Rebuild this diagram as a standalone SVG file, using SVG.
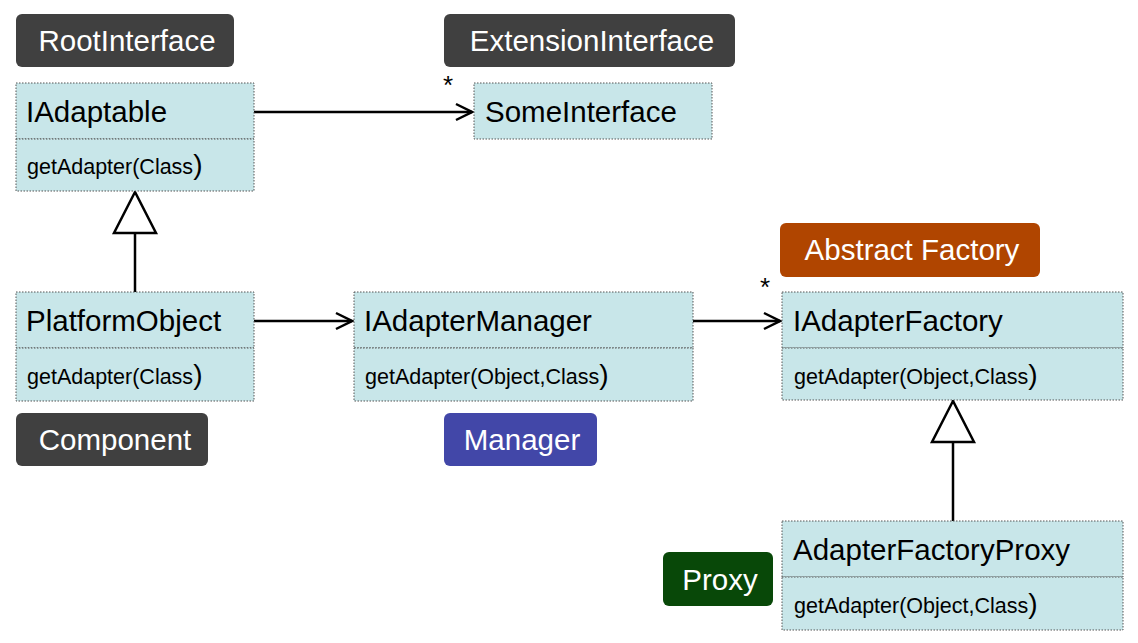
<svg xmlns="http://www.w3.org/2000/svg" width="1138" height="643" viewBox="0 0 1138 643">
<defs>
<style>
.box{fill:#c8e6e9;stroke:#555;stroke-width:1;stroke-dasharray:1.5 1.5}
.lbl{font-family:"Liberation Sans",Arial,sans-serif;font-size:29.5px;fill:#fff;text-anchor:middle}
.name{font-family:"Liberation Sans",Arial,sans-serif;font-size:29.5px;fill:#000}
.op{font-family:"Liberation Sans",Arial,sans-serif;font-size:21.5px;fill:#000}
.par{font-size:28px}
.star{font-family:"Liberation Sans",Arial,sans-serif;font-size:26px;fill:#000}
.ln{stroke:#000;stroke-width:2.5;fill:none}
.tri{fill:#fff;stroke:#000;stroke-width:2.5}
</style>
<marker id="open" viewBox="0 0 20 20" refX="18" refY="10" markerWidth="20" markerHeight="20" markerUnits="userSpaceOnUse" orient="auto">
<path d="M2,2 L18,10 L2,18" fill="none" stroke="#000" stroke-width="2.5"/>
</marker>
</defs>
<rect width="1138" height="643" fill="#fff"/>

<g id="connectors">
<line class="ln" x1="254" y1="112" x2="472" y2="112" marker-end="url(#open)"/>
<line class="ln" x1="254" y1="321" x2="352" y2="321" marker-end="url(#open)"/>
<line class="ln" x1="693" y1="321" x2="780" y2="321" marker-end="url(#open)"/>
<line class="ln" x1="135" y1="233" x2="135" y2="292"/>
<polygon class="tri" points="135,192 114,233 156,233"/>
<line class="ln" x1="953" y1="442" x2="953" y2="521"/>
<polygon class="tri" points="953,401 932,442 974,442"/>
<text class="star" x="443" y="94">*</text>
<text class="star" x="760" y="296">*</text>
</g>

<g id="RootInterface">
<rect x="16" y="14" width="218" height="53" rx="6" fill="#404040"/>
<text class="lbl" x="127" y="51">RootInterface</text>
</g>
<g id="ExtensionInterface">
<rect x="444" y="14" width="291" height="53" rx="6" fill="#404040"/>
<text class="lbl" x="592" y="51">ExtensionInterface</text>
</g>
<g id="Component">
<rect x="16" y="413" width="192" height="53" rx="6" fill="#404040"/>
<text class="lbl" x="115" y="450">Component</text>
</g>
<g id="Manager">
<rect x="444" y="413" width="153" height="53" rx="6" fill="#4247a8"/>
<text class="lbl" x="522" y="450">Manager</text>
</g>
<g id="AbstractFactory">
<rect x="780" y="223" width="260" height="54" rx="6" fill="#b04500"/>
<text class="lbl" x="912" y="260">Abstract Factory</text>
</g>
<g id="Proxy">
<rect x="663" y="552" width="110" height="54" rx="6" fill="#084808"/>
<text class="lbl" x="720" y="590">Proxy</text>
</g>

<g id="IAdaptable">
<rect class="box" x="16" y="83" width="238" height="56"/>
<rect class="box" x="16" y="139" width="238" height="52"/>
<text class="name" x="26" y="122">IAdaptable</text>
<text class="op" x="27" y="174">getAdapter(Class<tspan class="par">)</tspan></text>
</g>
<g id="SomeInterface">
<rect class="box" x="474" y="83" width="238" height="56"/>
<text class="name" x="485" y="122">SomeInterface</text>
</g>
<g id="PlatformObject">
<rect class="box" x="16" y="292" width="238" height="56"/>
<rect class="box" x="16" y="348" width="238" height="53"/>
<text class="name" x="26" y="331">PlatformObject</text>
<text class="op" x="27" y="384">getAdapter(Class<tspan class="par">)</tspan></text>
</g>
<g id="IAdapterManager">
<rect class="box" x="354" y="292" width="339" height="56"/>
<rect class="box" x="354" y="348" width="339" height="53"/>
<text class="name" x="364" y="331">IAdapterManager</text>
<text class="op" x="365" y="384">getAdapter(Object,Class<tspan class="par">)</tspan></text>
</g>
<g id="IAdapterFactory">
<rect class="box" x="782" y="292" width="341" height="56"/>
<rect class="box" x="782" y="348" width="341" height="52"/>
<text class="name" x="793" y="331">IAdapterFactory</text>
<text class="op" x="794" y="384">getAdapter(Object,Class<tspan class="par">)</tspan></text>
</g>
<g id="AdapterFactoryProxy">
<rect class="box" x="782" y="521" width="341" height="56"/>
<rect class="box" x="782" y="577" width="341" height="53"/>
<text class="name" x="793" y="560">AdapterFactoryProxy</text>
<text class="op" x="794" y="613">getAdapter(Object,Class<tspan class="par">)</tspan></text>
</g>
</svg>
